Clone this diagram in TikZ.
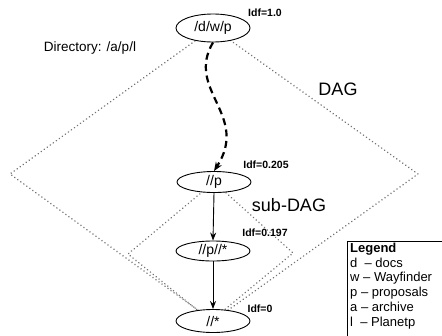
\documentclass[tikz,border=0pt]{standalone}
\usepackage{fontspec}
\setmainfont{Liberation Sans}
\usetikzlibrary{shapes.geometric,arrows.meta,backgrounds}
\tikzset{
  dirnode/.style={ellipse, draw, fill=white, line width=0.9pt, inner sep=0pt,
    minimum width=74pt, font=\fontsize{14}{16}\selectfont},
  idf/.style={font=\bfseries\fontsize{10.5}{12}\selectfont, inner sep=0pt},
  dagline/.style={black!55, line width=1.7pt, dash pattern=on 0.01pt off 3.7pt, line cap=round},
  solidarrow/.style={line width=0.9pt, -{Stealth[length=8pt,width=6pt]}},
  dasharrow/.style={line width=2.2pt, dash pattern=on 7pt off 4.5pt, -{Stealth[length=9pt,width=7pt]}},
  bigtext/.style={font=\fontsize{18}{20}\selectfont, inner sep=0pt}
}
\begin{document}
\begin{tikzpicture}[x=1pt,y=-1pt]
\useasboundingbox (0,0) rectangle (442,335);
% nodes
\node[dirnode, minimum height=28pt] (dwp) at (213,28) {/d/w/p};
\node[dirnode, minimum height=21pt] (p) at (214,182) {//p};
\node[dirnode, minimum height=20pt] (pp) at (213,251) {//p//*};
\node[dirnode, minimum height=23pt] (all) at (213,321) {//*};
% diamond corners
\coordinate (bl) at (10,174);
\coordinate (br) at (418,174);
\coordinate (sl) at (128,254);
\coordinate (sr) at (293,253);
\begin{pgfonlayer}{background}
\draw[dagline] (dwp.center) -- (bl) -- (all.center) -- (br) -- cycle;
\draw[dagline] (p.center) -- (sl) -- ([xshift=-2pt]all.center) -- (sr) -- cycle;
\end{pgfonlayer}
% labels
\node[idf] (l1) at (265,13) {Idf=1.0};
\node[idf] (l2) at (266,165) {Idf=0.205};
\node[idf] (l3) at (265,233) {Idf=0.197};
\node[idf] (l4) at (260,309) {Idf=0};
\node[bigtext] (dag) at (338,89) {DAG};
\node[bigtext] (sub) at (289,205) {sub-DAG};
\node[font=\fontsize{13.5}{15}\selectfont, inner sep=0pt] (dir) at (90,48) {Directory: /a/p/l};
% connectors
\draw[dasharrow] (dwp.south) .. controls (185,90) and (250,115) .. (p.north);
\draw[solidarrow] (p.south) -- (pp.north);
\draw[solidarrow] (pp.south) -- (all.north);
% legend
\draw[line width=0.9pt] (347,241) rectangle (445,345);
\node[anchor=north west, align=left, inner sep=0pt,
  font=\fontsize{13}{14.9}\selectfont] (legend) at (350,242.5)
  {\textbf{Legend}\\d\ \ -- docs\\w -- Wayfinder\\p -- proposals\\a -- archive\\l\ \ -- Planetp};
\end{tikzpicture}
\end{document}
